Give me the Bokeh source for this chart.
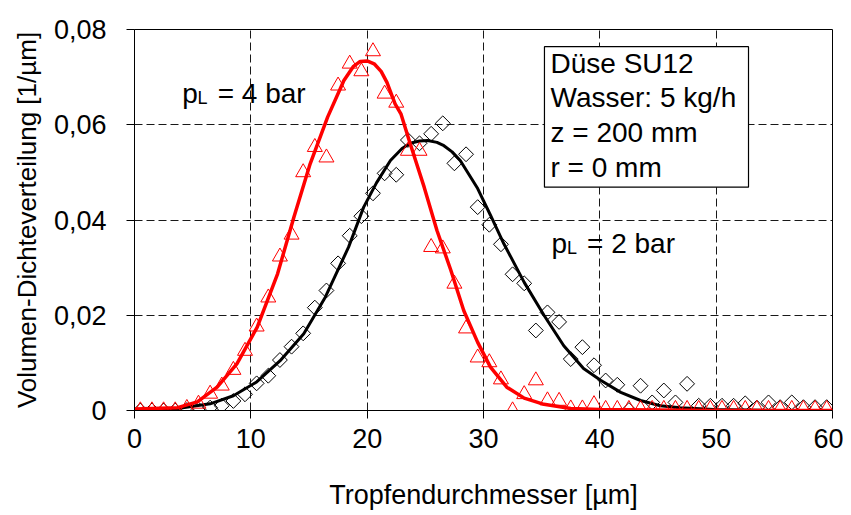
from bokeh.plotting import figure
from bokeh.models import Range1d, Label, BoxAnnotation, FixedTicker, CustomJSTickFormatter
from bokeh.embed import file_html
from bokeh.resources import INLINE

# Measured classes (droplet diameter, µm)
d_bins = [0.5, 1.5, 2.5, 3.5, 4.5, 5.5, 6.5, 7.5, 8.5, 9.5,
          10.5, 11.5, 12.5, 13.5, 14.5, 15.5, 16.5, 17.5, 18.5, 19.5,
          20.5, 21.5, 22.5, 23.5, 24.5, 25.5, 26.5, 27.5, 28.5, 29.5,
          30.5, 31.5, 32.5, 33.5, 34.5, 35.5, 36.5, 37.5, 38.5, 39.5,
          40.5, 41.5, 42.5, 43.5, 44.5, 45.5, 46.5, 47.5, 48.5, 49.5,
          50.5, 51.5, 52.5, 53.5, 54.5, 55.5, 56.5, 57.5, 58.5, 59.5]

# p_L = 2 bar (diamonds)
q_2bar = [0.0, 0.0, 0.0, 0.0, 0.0001, 0.0002, 0.0006, 0.0010, 0.0020, 0.0034,
          0.0057, 0.0073, 0.0106, 0.0134, 0.0162, 0.0216, 0.0252, 0.0309, 0.0367, 0.0408,
          0.0456, 0.0498, 0.0495, 0.0568, 0.0561, 0.0581, 0.0603, 0.0519, 0.0538, 0.0427,
          0.0390, 0.0349, 0.0286, 0.0267, 0.0168, 0.0206, 0.0186, 0.0108, 0.0133, 0.0095,
          0.0063, 0.0054, 0.0001, 0.0052, 0.0017, 0.0042, 0.0017, 0.0056, 0.0010, 0.0010,
          0.0010, 0.0010, 0.0015, 0.0006, 0.0017, 0.0007, 0.0017, 0.0007, 0.0007, 0.0007]

# p_L = 4 bar (triangles)
q_4bar = [0.0, 0.0, 0.0, 0.0, 0.0005, 0.0014, 0.0035, 0.0052, 0.0085, 0.0125,
          0.0176, 0.0237, 0.0323, 0.0369, 0.0500, 0.0553, 0.0531, 0.0682, 0.0728, 0.0712,
          0.0754, 0.0665, 0.0646, 0.0545, 0.0545, 0.0343, 0.0340, 0.0266, 0.0172, 0.0111,
          0.0101, 0.0065, 0.0, 0.0034, 0.0063, 0.0021, 0.0020, 0.0004, 0.0004, 0.0013,
          0.0003, 0.0003, 0.0003, 0.0003, 0.0003, 0.0003, 0.0003, 0.0003, 0.0003, 0.0003,
          0.0003, 0.0003, 0.0003, 0.0003, 0.0003, 0.0003, 0.0003, 0.0003, 0.0003, 0.0003]

# Fitted curves
fit2_x = [0.0, 3.7, 6.5, 8.5, 10.5, 12.5, 14.55, 16.4, 18.4, 19.7, 20.8, 22.0, 23.0, 23.7,
          24.5, 25.2, 26.0, 26.6, 27.3, 28.0, 29.5, 30.6, 31.75, 33.5, 35.2, 36.9, 38.6,
          40.1, 41.8, 43.5, 45.2, 46.9, 49.8, 55.0, 60.0]
fit2_y = [0.0, 0.0004, 0.0014, 0.0031, 0.0060, 0.0104, 0.0161, 0.0238, 0.0343, 0.0427, 0.0478,
          0.0525, 0.0550, 0.0561, 0.0566, 0.0567, 0.0563, 0.0556, 0.0543, 0.0525, 0.0466,
          0.0410, 0.0350, 0.0269, 0.0200, 0.0136, 0.0088, 0.0063, 0.0038, 0.0021, 0.0010,
          0.0006, 0.0002, 0.0, 0.0]

fit4_x = [0.0, 3.7, 5.4, 7.1, 8.8, 10.55, 12.3, 13.7, 15.1, 16.6, 18.0, 18.8, 19.4, 20.0,
          20.6, 21.2, 21.7, 22.4, 22.9, 23.7, 24.9, 26.0, 27.2, 28.3, 29.5, 30.6, 32.0, 33.5,
          35.2, 37.5, 40.0, 50.0, 60.0]
fit4_y = [0.0003, 0.0006, 0.0018, 0.0049, 0.0098, 0.0175, 0.0287, 0.0406, 0.0518, 0.0616,
          0.0693, 0.0722, 0.0733, 0.0734, 0.0728, 0.0712, 0.0689, 0.0644, 0.0623, 0.0560,
          0.0469, 0.0378, 0.0294, 0.0210, 0.0143, 0.0091, 0.0049, 0.0026, 0.0013, 0.0004,
          0.0002, 0.0, 0.0]

x_ticks = [0, 10, 20, 30, 40, 50, 60]
y_ticks = [0, 0.02, 0.04, 0.06, 0.08]

info_lines = ["Düse SU12", "Wasser: 5 kg/h", "z = 200 mm", "r = 0 mm"]

FONT = "Liberation Sans"

p = figure(width=843, height=515, output_backend="svg", toolbar_location=None,
           x_range=Range1d(0, 60), y_range=Range1d(0, 0.08),
           min_border_left=134, min_border_right=11, min_border_top=29, min_border_bottom=105)
p.background_fill_color = "white"
p.border_fill_color = "white"
p.outline_line_color = "black"
p.outline_line_width = 1

p.xaxis.ticker = FixedTicker(ticks=x_ticks)
p.yaxis.ticker = FixedTicker(ticks=y_ticks)
p.yaxis.formatter = CustomJSTickFormatter(code="return tick == 0 ? '0' : tick.toFixed(2).replace('.', ',');")

for ax in (p.xaxis, p.yaxis):
    ax.axis_line_color = "black"
    ax.axis_line_width = 1
    ax.major_tick_line_color = "black"
    ax.major_tick_in = 0
    ax.major_tick_out = 8
    ax.minor_tick_line_color = None
    ax.major_label_text_font = FONT
    ax.major_label_text_font_size = "27px"
    ax.major_label_text_color = "black"
    ax.axis_label_text_font = FONT
    ax.axis_label_text_font_style = "normal"
    ax.axis_label_text_color = "black"

p.xaxis.axis_label = "Tropfendurchmesser [µm]"
p.yaxis.axis_label = "Volumen-Dichteverteilung [1/µm]"
p.xaxis.axis_label_text_font_size = "27px"
p.yaxis.axis_label_text_font_size = "26px"
p.xaxis.major_label_standoff = 10
p.yaxis.major_label_standoff = 20
p.xaxis.axis_label_standoff = 29
p.yaxis.axis_label_standoff = 9

p.grid.grid_line_color = "black"
p.grid.grid_line_dash = "8 4"
p.grid.grid_line_width = 1
p.grid.grid_line_alpha = 0.9

# measured points
p.scatter(d_bins, q_2bar, marker="square", angle=0.785398, size=10.5,
          fill_color=None, line_color="black", line_width=1)
p.line(fit2_x, fit2_y, line_color="black", line_width=3)
p.scatter(d_bins, q_4bar, marker="triangle", size=15,
          fill_color=None, line_color="red", line_width=1)
p.line(fit4_x, fit4_y, line_color="red", line_width=3.5)

# info box
box = BoxAnnotation(left=35.24, right=52.78, top=0.0764, bottom=0.0469,
                    fill_color="white", fill_alpha=1.0, line_color="black", line_alpha=1.0,
                    line_width=1.2)
p.add_layout(box)
for i, t in enumerate(info_lines):
    p.add_layout(Label(x=35.76, y=0.0729 - i * 0.00726, text=t, text_font=FONT,
                       text_font_size="28px", text_color="black", text_baseline="alphabetic"))

# curve annotations
def pl_label(x0, y0, val):
    p.add_layout(Label(x=x0, y=y0, text="p", text_font=FONT, text_font_size="28px",
                       text_color="black", text_baseline="alphabetic"))
    p.add_layout(Label(x=x0 + 1.32, y=y0 - 0.001, text="L", text_font=FONT, text_font_size="18px",
                       text_color="black", text_baseline="alphabetic"))
    p.add_layout(Label(x=x0 + 3.05, y=y0, text="= %s bar" % val, text_font=FONT,
                       text_font_size="28px", text_color="black", text_baseline="alphabetic"))

pl_label(4.1, 0.0666, "4")
pl_label(35.85, 0.0351, "2")

open("out.html", "w").write(file_html(p, INLINE))
